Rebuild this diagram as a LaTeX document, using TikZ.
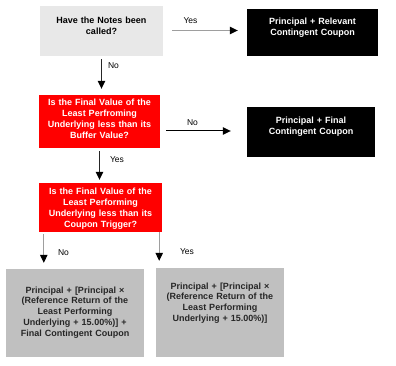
\documentclass[tikz,border=0pt]{standalone}
\usepackage{fontspec}
\setmainfont{Liberation Sans}
\usepackage{xcolor}
\definecolor{boxQuestion}{HTML}{E8E8E8}
\definecolor{boxRed}{HTML}{FF0000}
\definecolor{boxOutcome}{HTML}{C0C0C0}
\definecolor{lineGray}{HTML}{9E9E9E}
\definecolor{textDark}{HTML}{262626}
\usetikzlibrary{arrows.meta}

\tikzset{
  box/.style={rectangle, draw=none, inner sep=0pt, align=center, text height=7pt,
    font=\fontsize{9}{10.8}\selectfont\bfseries},
  lbl/.style={inner sep=0pt, font=\fontsize{8.5}{10}\selectfont},
  arr/.style={line width=1pt, -{Triangle[width=7.5pt, length=8pt, color=black]}},
}

\begin{document}
\begin{tikzpicture}[x=1pt, y=-1pt]
  \useasboundingbox (0,0) rectangle (396,366);
  \node[box, fill=boxQuestion, text width=123pt, minimum height=50pt, text depth=21pt] (q1) at (101.5,31) {Have the Notes been\\called?};
  \node[box, fill=black, text=white, text width=131pt, minimum height=47pt, text depth=22pt] (r1) at (312.5,32.5) {Principal + Relevant\\Contingent Coupon};
  \node[box, fill=boxRed, text=white, text width=121pt, minimum height=53pt, text depth=38pt] (q2) at (99.5,121.5) {Is the Final Value of the\\Least Perfroming\\Underlying less than its\\Buffer Value?};
  \node[box, fill=black, text=white, text width=128pt, minimum height=50pt, text depth=23pt] (r2) at (311,132) {Principal + Final\\Contingent Coupon};
  \node[box, fill=boxRed, text=white, text width=123pt, minimum height=49pt, text depth=32pt] (q3) at (100.5,207.5) {Is the Final Value of the\\Least Performing\\Underlying less than its\\Coupon Trigger?};
  \node[box, fill=boxOutcome, text=textDark, text width=138pt, minimum height=88pt, text depth=47pt] (o1) at (75,313) {Principal + [Principal ×\\(Reference Return of the\\Least Performing\\Underlying + 15.00\%)] +\\Final Contingent Coupon};
  \node[box, fill=boxOutcome, text=textDark, text width=128pt, minimum height=89pt, text depth=54pt] (o2) at (220,312.5) {Principal + [Principal ×\\(Reference Return of the\\Least Performing\\Underlying + 15.00\%)]};
  % connectors
  \draw[arr, lineGray, shorten <=9pt, shorten >=9pt] ([yshift=0.5pt]q1.east) -- ([yshift=0.5pt]q1.east -| r1.west);
  \draw[arr, black!85, shorten <=3pt, shorten >=6pt] (q1.south) -- (q1.south |- q2.north);
  \draw[arr, black, shorten <=6pt, shorten >=16pt] ([yshift=-9.5pt]q2.east) -- ([yshift=-9.5pt]q2.east -| r2.west);
  \draw[arr, black!85, shorten <=3pt, shorten >=3pt] (q2.south) -- (q2.south |- q3.north);
  \draw[arr, lineGray, shorten <=2pt, shorten >=6pt] ([xshift=5pt]q3.south west) -- ([xshift=5pt]q3.south west |- o1.north);
  \draw[arr, lineGray, shorten <=0pt, shorten >=7pt] ([xshift=-3pt]q3.south east) -- ([xshift=-3pt]q3.south east |- o2.north);
  % labels
  \node[lbl] (yes1) at (190.5,21) {Yes};
  \node[lbl] (no1) at (113.5,66) {No};
  \node[lbl] (no2) at (192.5,123) {No};
  \node[lbl] (yes2) at (117,160) {Yes};
  \node[lbl] (no3) at (63.5,253) {No};
  \node[lbl] (yes3) at (187,252) {Yes};
\end{tikzpicture}
\end{document}
